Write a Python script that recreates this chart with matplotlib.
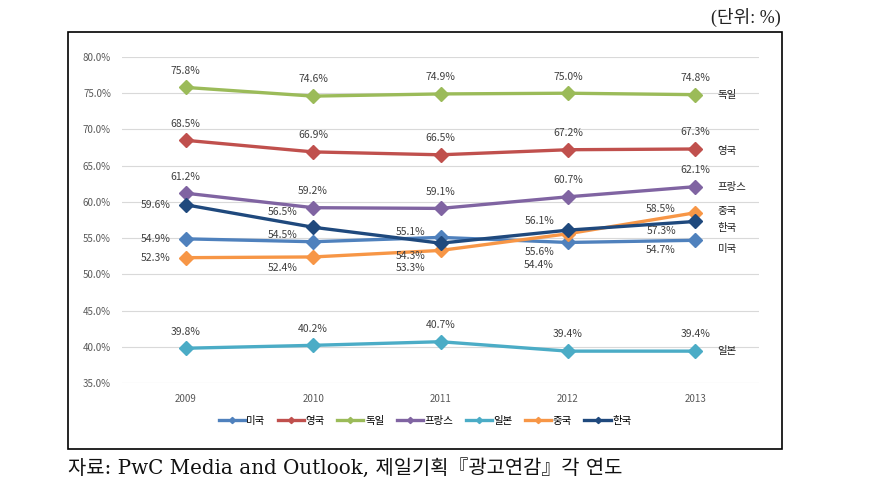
import matplotlib
matplotlib.use("Agg")
import matplotlib.pyplot as plt
from matplotlib.patches import Rectangle

plt.rcParams['font.family'] = ['Noto Sans CJK KR', 'DejaVu Sans']

years = ["2009", "2010", "2011", "2012", "2013"]
countries = ["미국", "영국", "독일", "프랑스", "일본", "중국", "한국"]
us = [54.9, 54.5, 55.1, 54.4, 54.7]
uk = [68.5, 66.9, 66.5, 67.2, 67.3]
germany = [75.8, 74.6, 74.9, 75.0, 74.8]
france = [61.2, 59.2, 59.1, 60.7, 62.1]
japan = [39.8, 40.2, 40.7, 39.4, 39.4]
china = [52.3, 52.4, 53.3, 55.6, 58.5]
korea = [59.6, 56.5, 54.3, 56.1, 57.3]
series = [us, uk, germany, france, japan, china, korea]
colors = ["#4F81BD", "#C0504D", "#9BBB59", "#8064A2", "#4BACC6", "#F79646", "#1F497D"]

# label offsets (dx, dy) in points; dx == 0 -> centred, otherwise right-aligned
A = (0, 12)
placement = {
    "미국": [(-11, 0), (-11, 5), (-11, 4), (-10, -16.5), (-14, -7)],
    "영국": [A] * 5,
    "독일": [A] * 5,
    "프랑스": [A] * 5,
    "일본": [A] * 5,
    "중국": [(-11, 0), (-11, -8), (-11, -13), (-10, -13), (-14, 3)],
    "한국": [(-11, 0), (-11, 11), (-11, -9), (-10, 6.5), (-14, -7)],
}
# nudge for the right-hand series names (points)
name_dy = {"미국": -6, "영국": -1.5, "독일": 0, "프랑스": 0, "일본": 0, "중국": 1.5, "한국": -5}

fig = plt.figure(figsize=(8.92, 4.93), dpi=100)
ax = fig.add_axes([0.1368, 0.2231, 0.7141, 0.6613])
x = range(len(years))

for name, vals, c in zip(countries, series, colors):
    ax.plot(x, vals, color=c, lw=2.4, marker="D", ms=7, label=name, zorder=3)
    for i, v in enumerate(vals):
        dx, dy = placement[name][i]
        ha = "center" if dx == 0 else "right"
        ax.annotate(f"{v:.1f}%", (i, v), xytext=(dx, dy), textcoords="offset points",
                    ha=ha, va="center", fontsize=7.5, color="#404040", zorder=4)
    ax.annotate(name, (4, vals[-1]), xytext=(16, name_dy[name]), textcoords="offset points",
                ha="left", va="center", fontsize=7.5, color="#202020")

ax.set_xlim(-0.5, 4.5)
ax.set_ylim(35, 80)
ax.set_yticks([35, 40, 45, 50, 55, 60, 65, 70, 75, 80])
ax.set_yticklabels([f"{t:.1f}%" for t in ax.get_yticks()])
ax.set_xticks(list(x))
ax.set_xticklabels(years)
ax.tick_params(length=0, labelsize=7, colors="#595959", pad=8)
ax.grid(axis="y", color="#D9D9D9", lw=0.8)
ax.set_axisbelow(True)
for s in ax.spines.values():
    s.set_visible(False)

handles, labels = ax.get_legend_handles_labels()
fig.legend(handles, labels, ncol=7, loc="center", bbox_to_anchor=(0.4765, 1 - 421 / 493),
           frameon=False, fontsize=7.5, handlelength=2.5, handletextpad=0.15,
           columnspacing=1.2, markerscale=0.45)

fig.patches.append(Rectangle((0.0762, 0.0892), 0.8004, 0.8458, transform=fig.transFigure,
                             fill=False, ec="black", lw=1.2))
fig.text(0.875, 0.965, "(단위: %)", ha="right", va="center", fontsize=13, color="#222222",
         family=['Liberation Serif', 'Noto Sans CJK KR'])
fig.text(0.0762, 0.05, "자료: PwC Media and Outlook, 제일기획『광고연감』각 연도",
         ha="left", va="center", fontsize=14.3, color="#111111",
         family=['DejaVu Serif', 'Noto Sans CJK KR'])

fig.savefig("out.png", dpi=100)
